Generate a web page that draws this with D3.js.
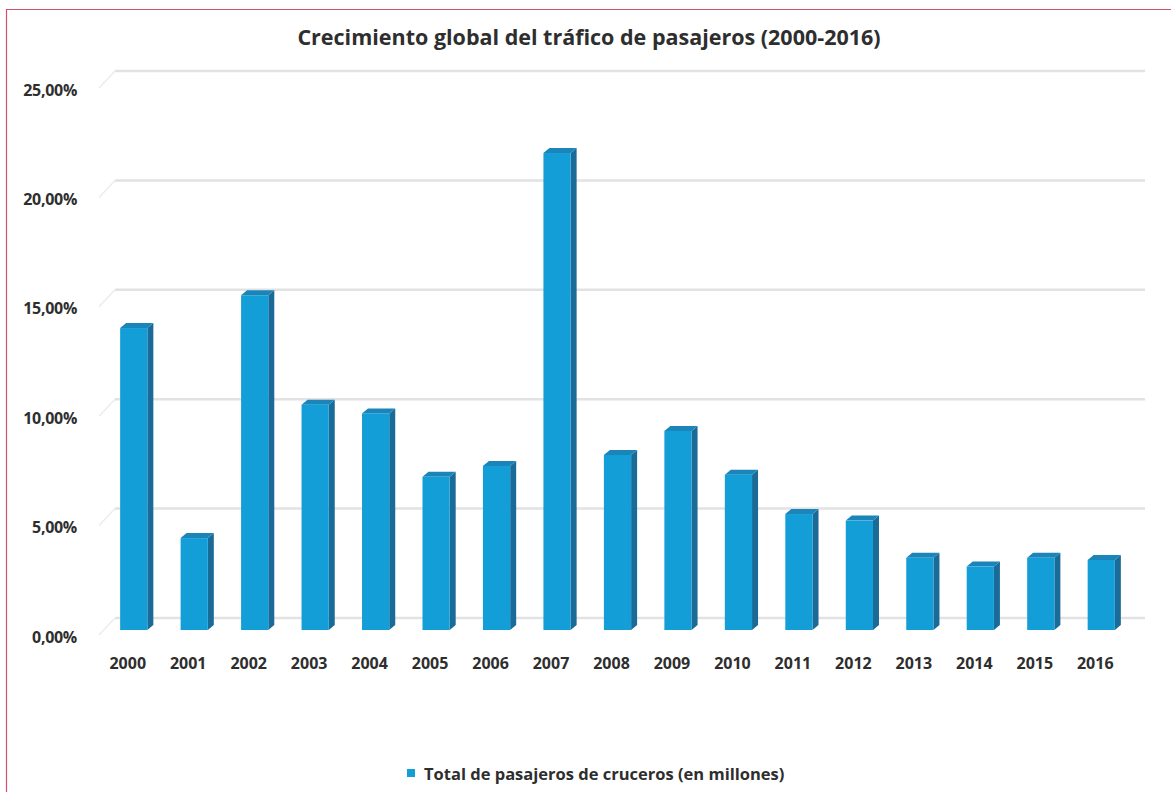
<!DOCTYPE html>
<html>
<head>
<meta charset="utf-8">
<script src="https://cdn.jsdelivr.net/npm/d3@7"></script>
<style>
  body { margin: 0; background: #fff; }
  text { font-family: "Open Sans", "DejaVu Sans", sans-serif; font-weight: bold; fill: #2e2e2e; }
</style>
</head>
<body>
<div class="chart"></div>
<script>
var svgWidth = 1171;
var svgHeight = 792;

// data
var years = ["2000", "2001", "2002", "2003", "2004", "2005", "2006", "2007", "2008",
  "2009", "2010", "2011", "2012", "2013", "2014", "2015", "2016"];
var growth = [13.8, 4.2, 15.3, 10.3, 9.9, 7.0, 7.5, 21.8, 8.0, 9.1, 7.1, 5.3, 5.0, 3.3, 2.9, 3.3, 3.2];
var yTicks = [0, 5, 10, 15, 20, 25];
var titleText = "Crecimiento global del tráfico de pasajeros (2000-2016)";
var legendText = "Total de pasajeros de cruceros (en millones)";

var svg = d3.select(".chart")
  .append("svg")
  .attr("width", svgWidth)
  .attr("height", svgHeight);

// outer frame (cropped on right and bottom)
svg.append("path")
  .attr("d", "M6.5,800 L6.5,9.5 L1180,9.5")
  .attr("fill", "none")
  .attr("stroke", "#d4506c")
  .attr("stroke-width", 1.2);

var xScale = d3.scaleBand()
  .domain(years)
  .range([102, 1133])
  .paddingInner(0.55)
  .paddingOuter(0.3);

var yScale = d3.scaleLinear()
  .domain([0, 25])
  .range([630, 83]);

// back-wall gridlines with a small perspective shift
var back = { dx: 14, dy: -12 };
var grid = svg.append("g");
grid.selectAll("line.grid")
  .data(yTicks)
  .enter()
  .append("line")
  .attr("x1", 115)
  .attr("x2", 1145)
  .attr("y1", d => yScale(d) + back.dy)
  .attr("y2", d => yScale(d) + back.dy)
  .attr("stroke", "#e2e2e2")
  .attr("stroke-width", 2.5);

grid.selectAll("line.diag")
  .data(yTicks)
  .enter()
  .append("line")
  .attr("x1", 99)
  .attr("x2", 115)
  .attr("y1", d => yScale(d) + 5)
  .attr("y2", d => yScale(d) + back.dy)
  .attr("stroke", "#ececec")
  .attr("stroke-width", 1.5);

// y labels
svg.selectAll("text.ylab")
  .data(yTicks)
  .enter()
  .append("text")
  .attr("x", 77)
  .attr("y", d => yScale(d) + 7)
  .attr("dy", "0.35em")
  .attr("text-anchor", "end")
  .attr("font-size", "16px")
  .attr("letter-spacing", "-0.3px")
  .text(d => d3.format(".2f")(d).replace(".", ",") + "%");

// 3D columns
var bw = xScale.bandwidth();
var dep = { dx: 6, dy: -5 };
var bars = svg.selectAll("g.bar")
  .data(years)
  .enter()
  .append("g");

bars.append("path")
  .attr("fill", "#1a6b97")
  .attr("d", function(d, i) {
    var x = xScale(d) + bw, y0 = yScale(0), y1 = yScale(growth[i]);
    return `M${x},${y0} L${x + dep.dx},${y0 + dep.dy} L${x + dep.dx},${y1 + dep.dy} L${x},${y1} Z`;
  });

bars.append("path")
  .attr("fill", "#1b84b8")
  .attr("d", function(d, i) {
    var x = xScale(d), y1 = yScale(growth[i]);
    return `M${x},${y1} L${x + dep.dx},${y1 + dep.dy} L${x + bw + dep.dx},${y1 + dep.dy} L${x + bw},${y1} Z`;
  });

bars.append("rect")
  .attr("x", d => xScale(d))
  .attr("y", (d, i) => yScale(growth[i]))
  .attr("width", bw)
  .attr("height", (d, i) => yScale(0) - yScale(growth[i]))
  .attr("fill", "#149ed8");

// x labels
svg.selectAll("text.xlab")
  .data(years)
  .enter()
  .append("text")
  .attr("x", d => xScale(d) + bw / 2 - 6)
  .attr("y", 663)
  .attr("dy", "0.35em")
  .attr("text-anchor", "middle")
  .attr("font-size", "16px")
  .text(d => d);

// title
svg.append("text")
  .attr("x", 589)
  .attr("y", 37)
  .attr("dy", "0.35em")
  .attr("text-anchor", "middle")
  .attr("font-size", "21.5px")
  .text(titleText);

// legend
svg.append("rect")
  .attr("x", 407)
  .attr("y", 769)
  .attr("width", 8)
  .attr("height", 8)
  .attr("fill", "#149ed8");

svg.append("text")
  .attr("x", 424)
  .attr("y", 774)
  .attr("dy", "0.35em")
  .attr("font-size", "16.5px")
  .text(legendText);
</script>
</body>
</html>
